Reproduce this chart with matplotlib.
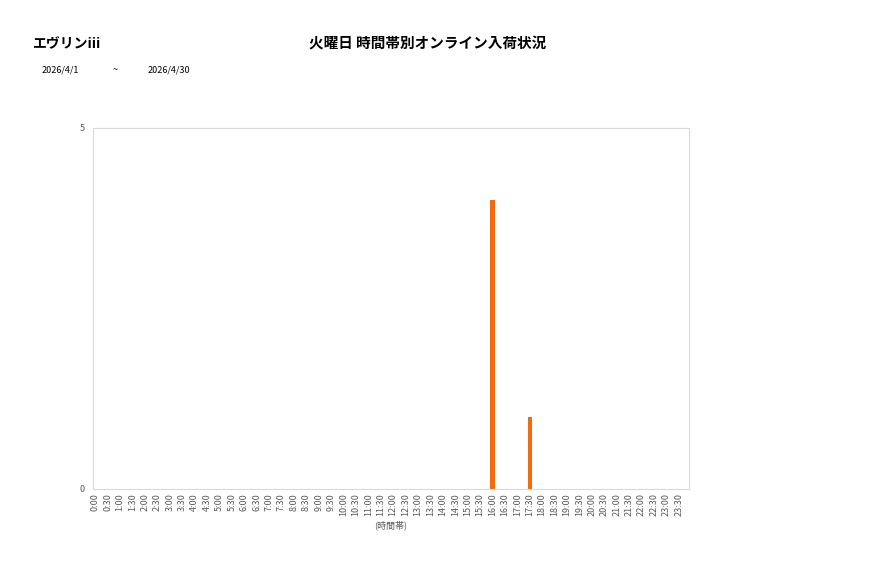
import matplotlib
matplotlib.use('Agg')
import matplotlib.pyplot as plt

plt.rcParams['font.family'] = ['Noto Sans CJK JP', 'DejaVu Sans']

shop = 'エヴリンiii'
title = '火曜日 時間帯別オンライン入荷状況'
date_from = '2026/4/1'
date_to = '2026/4/30'

# half-hour slots 0:00 .. 23:30
slots = ['%d:%s' % (h, m) for h in range(24) for m in ('00', '30')]
counts = [0] * 48
counts[slots.index('16:00')] = 4
counts[slots.index('17:30')] = 1

fig = plt.figure(figsize=(8.77, 5.78), dpi=100)
ax = fig.add_axes([0.106, 0.154, 0.6796, 0.6246])

ax.bar(range(len(slots)), counts, width=0.33, color='#f26b10')
ax.set_xlim(-0.18, len(slots) - 0.18)
ax.set_ylim(0, 5)
ax.set_yticks([0, 5])
ax.set_xticks(range(len(slots)))
ax.set_xticklabels(slots, rotation=90, fontsize=6.5, color='#595959')
ax.tick_params(axis='y', labelsize=6.5, labelcolor='#595959', length=0, pad=6)
ax.tick_params(axis='x', length=0, pad=3)
for s in ax.spines.values():
    s.set_color('#d9d9d9')
    s.set_linewidth(0.8)
ax.set_xlabel('(時間帯)', fontsize=6.5, color='#595959', labelpad=3)

fig.text(33 / 877, 1 - 44 / 578, shop, fontsize=10, fontweight='bold', va='center', ha='left')
fig.text(428 / 877, 1 - 44 / 578, title, fontsize=10.5, fontweight='bold', va='center', ha='center')
fig.text(42 / 877, 1 - 70 / 578, date_from, fontsize=6.5, va='center', ha='left')
fig.text(115 / 877, 1 - 70 / 578, '~', fontsize=6.5, va='center', ha='center')
fig.text(148 / 877, 1 - 70 / 578, date_to, fontsize=6.5, va='center', ha='left')

fig.savefig('out.png', dpi=100)
